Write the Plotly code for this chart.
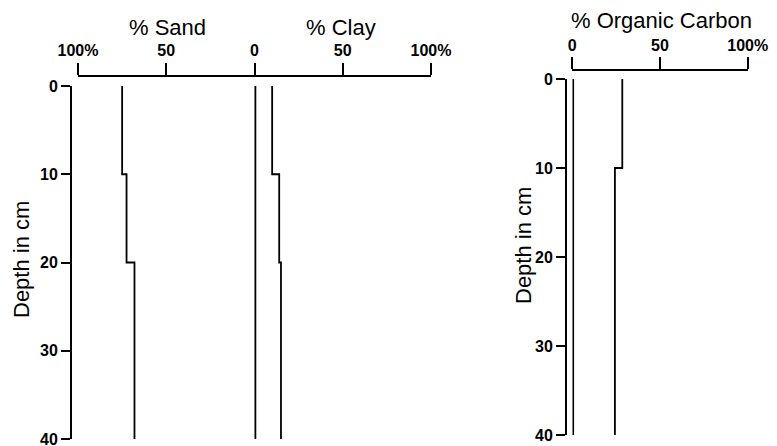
import plotly.graph_objects as go

# ---- data ----
layer_tops = [0, 10, 20]
layer_bottoms = [10, 20, 40]
sand_pct = [75.0, 72.5, 68.0]
clay_pct = [10.0, 14.0, 15.0]
left_base_pct = [0.5, 0.5, 0.5]

oc_tops = [0, 10]
oc_bottoms = [10, 40]
organic_carbon_pct = [28.5, 24.3]
oc_base_pct = [0.5, 0.5]

depth_ticks = [0, 10, 20, 30, 40]
left_x_tickvals = [-100, -50, 0, 50, 100]
left_x_ticktext = ["100%", "50", "0", "50", "100%"]
right_x_tickvals = [0, 50, 100]
right_x_ticktext = ["0", "50", "100%"]

# the page body adds an 8 px margin, so the figure is sized to fit inside it
OFF = 8
W, H = 777 - OFF, 446 - OFF
def px(x):
    return (x - OFF) / W
def py(y):
    return 1 - (y - OFF) / H

def steps(tops, bottoms, vals, sign=1):
    xs, ys = [], []
    for t, b, v in zip(tops, bottoms, vals):
        xs += [sign * v, sign * v]
        ys += [t, b]
    return xs, ys

FONT = "Liberation Sans, Arial, Helvetica, sans-serif"
LW = 1.8

fig = go.Figure()
line = dict(color="black", width=LW)

x, y = steps(layer_tops, layer_bottoms, sand_pct, sign=-1)
fig.add_trace(go.Scatter(x=x, y=y, mode="lines", line=line, xaxis="x", yaxis="y", hoverinfo="skip"))
x, y = steps(layer_tops, layer_bottoms, left_base_pct)
fig.add_trace(go.Scatter(x=x, y=y, mode="lines", line=line, xaxis="x", yaxis="y", hoverinfo="skip"))
x, y = steps(layer_tops, layer_bottoms, clay_pct)
fig.add_trace(go.Scatter(x=x, y=y, mode="lines", line=line, xaxis="x", yaxis="y", hoverinfo="skip"))

x, y = steps(oc_tops, oc_bottoms, oc_base_pct)
fig.add_trace(go.Scatter(x=x, y=y, mode="lines", line=line, xaxis="x2", yaxis="y2", hoverinfo="skip"))
x, y = steps(oc_tops, oc_bottoms, organic_carbon_pct)
fig.add_trace(go.Scatter(x=x, y=y, mode="lines", line=line, xaxis="x2", yaxis="y2", hoverinfo="skip"))

tickfont = dict(family=FONT, size=16, color="black", weight="bold")
common_x = dict(side="top", anchor="free", showline=True, linecolor="black", linewidth=LW,
                ticks="outside", ticklen=12, tickwidth=LW, tickcolor="black",
                showgrid=False, zeroline=False, tickfont=tickfont, fixedrange=True,
                automargin=False, ticklabeloverflow="allow")
common_y = dict(anchor="free", showline=True, linecolor="black", linewidth=LW,
                ticks="outside", ticklen=9, tickwidth=LW, tickcolor="black",
                showgrid=False, zeroline=False, tickfont=tickfont, range=[40, 0],
                tickvals=depth_ticks, fixedrange=True, automargin=False,
                ticklabeloverflow="allow")

fig.update_layout(
    width=W, height=H,
    margin=dict(l=0, r=0, t=0, b=0, autoexpand=False),
    paper_bgcolor="white", plot_bgcolor="rgba(0,0,0,0)",
    showlegend=False,
    font=dict(family=FONT, color="black"),
    xaxis=dict(domain=[px(78), px(431)], range=[-100, 100], position=py(75.5),
               tickvals=left_x_tickvals, ticktext=left_x_ticktext, **common_x),
    yaxis=dict(domain=[py(439), py(86)], position=px(71), **common_y),
    xaxis2=dict(domain=[px(572.3), px(747.7)], range=[0, 100], position=py(70),
                tickvals=right_x_tickvals, ticktext=right_x_ticktext, **common_x),
    yaxis2=dict(domain=[py(435), py(79)], position=px(566), **common_y),
)

title_font = dict(family=FONT, size=22, color="black")
ann = [
    dict(text="% Sand", x=px(167), y=py(27)),
    dict(text="% Clay", x=px(341), y=py(27)),
    dict(text="% Organic Carbon", x=px(661), y=py(20)),
    dict(text="Depth in cm", x=px(21), y=py(260), textangle=-90),
    dict(text="Depth in cm", x=px(523), y=py(246), textangle=-90),
]
for a in ann:
    fig.add_annotation(xref="paper", yref="paper", showarrow=False,
                       xanchor="center", yanchor="middle", font=title_font, **a)

fig.write_html("out.html")
